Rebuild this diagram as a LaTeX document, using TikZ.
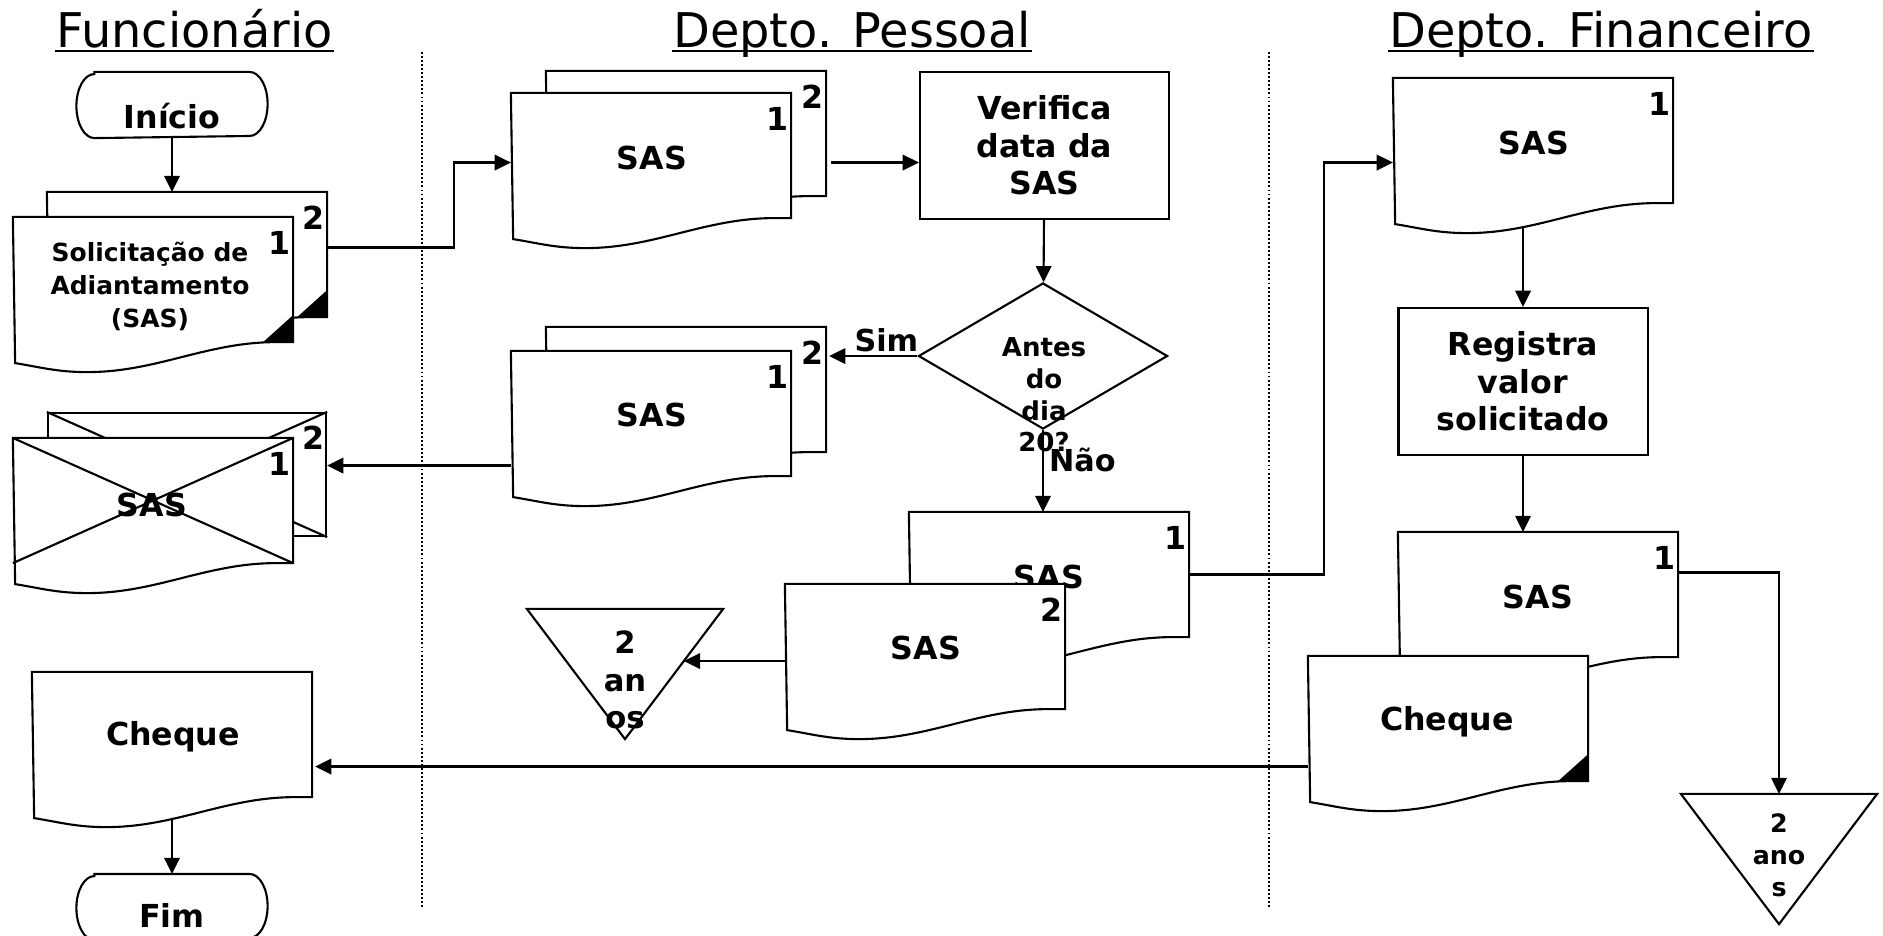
\documentclass[tikz,border=0pt]{standalone}
\usepackage{fontspec}
\setmainfont{DejaVu Sans}
\usetikzlibrary{arrows.meta,calc,shapes.geometric}

% contorno de documento (base ondulada) a partir de um no
\newcommand{\documento}[1]{%
	\draw[fill=white] (#1.north west) -- (#1.north east) -- (#1.south east) -- ++(-17,0)
		.. controls +(-70,0) and +(70,0) .. ++(-189,30)
		.. controls +(-30,0) and +(25,4) .. ++(-72,-9) -- cycle;}
\newcommand{\cantoneira}[1]{\fill (#1.south east) -- ++(-30,0) -- ++(30,-27) -- cycle;}
\newcommand{\terminal}[1]{%
	\draw (#1.north west) -- (#1.north east) arc[start angle=90,end angle=-90,x radius=0.18cm,y radius=0.32cm]
		-- (#1.south west) arc[start angle=270,end angle=90,x radius=0.18cm,y radius=0.32cm] -- cycle;}

\begin{document}
\begin{tikzpicture}[x=0.01cm,y=-0.01cm,line width=0.6pt,>={Triangle[length=4.6pt,width=4.4pt]}]
	\tikzstyle{texto}=[font=\bfseries\fontsize{9pt}{10.7pt}\selectfont,align=center,inner sep=0pt]
	\tikzstyle{titulo}=[font=\fontsize{13.6pt}{16pt}\selectfont,inner sep=0pt,anchor=base]
	\tikzstyle{doc}=[minimum width=2.78cm,minimum height=1.23cm,inner sep=0pt]
	\tikzstyle{caixa}=[texto,draw,rectangle,minimum width=2.49cm,minimum height=1.47cm]
	\tikzstyle{decisao}=[draw,diamond,minimum width=2.49cm,minimum height=1.46cm,inner sep=0pt]
	\tikzstyle{term}=[minimum width=1.53cm,minimum height=0.64cm,inner sep=0pt]
	\tikzstyle{arquivo}=[minimum width=1.94cm,minimum height=1.28cm,inner sep=0pt]

	\useasboundingbox (0,0) rectangle (1883,935);

	% raias
	\draw[line width=0.5pt,dash pattern=on 0.55pt off 0.6pt] (422,52) -- (422,908);
	\draw[line width=0.5pt,dash pattern=on 0.55pt off 0.6pt] (1269,52) -- (1269,908);

	\node[titulo] (TFU) at (194.5,47) {Funcionário};
	\node[titulo] (TDP) at (852,47) {Depto. Pessoal};
	\node[titulo] (TDF) at (1601,47) {Depto. Financeiro};
	\foreach \t in {TFU,TDP,TDF}
		\draw[line width=0.7pt] ($(\t.base west)+(0,4)$) -- ($(\t.base east)+(0,4)$);

	% Funcionario
	\node[term] (INI) at (172,105) {};
	\terminal{INI}
	\node[texto] (INIt) at (172,116) {Início};

	\node[doc] (SOLb) at (187,254.5) {};
	\documento{SOLb} \cantoneira{SOLb}
	\node[doc] (SOLa) at (153,279.5) {};
	\documento{SOLa} \cantoneira{SOLa}
	\node[texto,font=\bfseries\fontsize{7.1pt}{9.4pt}\selectfont] (SOLt) at (150,286.5)
		{Solicitação de\\Adiantamento\\(SAS)};

	\node[doc,draw] (ENVb) at (187,474.5) {};
	\draw (ENVb.north west) -- (ENVb.south east) (ENVb.north east) -- (ENVb.south west);
	\node[doc] (ENVa) at (153,500.5) {};
	\documento{ENVa}
	\draw (ENVa.north west) -- (ENVa.south east) (ENVa.north east) -- (ENVa.south west);
	\node[texto] (ENVt) at (152,505) {SAS};

	\node[doc] (CHQa) at (172,734.5) {};
	\documento{CHQa}
	\node[texto] (CHQat) at (173,737) {Cheque};

	\node[term] (FIM) at (172,907) {};
	\terminal{FIM}
	\node[texto] (FIMt) at (172,915) {Fim};

	% Depto. Pessoal
	\node[doc] (SASb) at (686,133.5) {};
	\documento{SASb}
	\node[doc] (SASa) at (651,155.5) {};
	\documento{SASa}
	\node[texto] (SASat) at (652,158) {SAS};

	\node[caixa] (VER) at (1044.5,145.5) {Verifica\\data da\\SAS};
	\node[decisao] (DEC) at (1043,356) {};
	\node[texto,font=\bfseries\fontsize{7.4pt}{9pt}\selectfont] (DECt) at (1044,395) {Antes\\do\\dia\\20?};

	\node[doc] (SIMb) at (686,389.5) {};
	\documento{SIMb}
	\node[doc] (SIMa) at (651,413.5) {};
	\documento{SIMa}
	\node[texto] (SIMat) at (652,415) {SAS};

	\node[doc] (NAOa) at (1049,574.5) {};
	\documento{NAOa}
	\node[texto] (NAOat) at (1049,577) {SAS};
	\node[doc] (NAOb) at (925,646.5) {};
	\documento{NAOb}
	\node[texto] (NAObt) at (926,648) {SAS};

	\node[arquivo] (TRIa) at (625,674) {};
	\draw (TRIa.north west) -- (TRIa.north east) -- (TRIa.south) -- cycle;
	\node[texto,font=\bfseries\fontsize{8.7pt}{10.7pt}\selectfont] (TRIat) at (625,680) {2\\an\\os};

	% Depto. Financeiro
	\node[doc] (DFa) at (1533,140.5) {};
	\documento{DFa}
	\node[texto] (DFat) at (1534,143) {SAS};

	\node[caixa] (REG) at (1523,381.5) {Registra\\valor\\solicitado};

	\node[doc] (DFb) at (1538,594.5) {};
	\documento{DFb}
	\node[texto] (DFbt) at (1538,597) {SAS};
	\node[doc] (CHQb) at (1448,718.5) {};
	\documento{CHQb} \cantoneira{CHQb}
	\node[texto] (CHQbt) at (1447,722) {Cheque};

	\node[arquivo] (TRIb) at (1779,859) {};
	\draw (TRIb.north west) -- (TRIb.north east) -- (TRIb.south) -- cycle;
	\node[texto,font=\bfseries\fontsize{7.2pt}{9.1pt}\selectfont] (TRIbt) at (1779,855) {2\\ano\\s};

	% vias
	\foreach \d/\n in {SOLb/2,SOLa/1,ENVb/2,ENVa/1,SASb/2,SASa/1,SIMb/2,SIMa/1,NAOa/1,NAOb/2,DFa/1,DFb/1}
		\node[texto] (\d-n) at ($(\d.north east)+(-14,26)$) {\n};

	% fluxo
	\draw[->] (INI.south) -- (INI.south |- SOLb.north);
	\draw[->] ($(SOLb.east)+(0,-7)$) -- ++(127,0) |- ($(SASa.west)+(0,7)$);
	\draw[->] ($(SASb.east)+(5,29)$) -- ($(VER.west)+(0,17)$);
	\path (VER) edge[->] (DEC);
	\path (DEC.west) edge[->,shorten >=0.03cm] node[texto,above=0.03cm,pos=0.34,font=\bfseries\fontsize{8.6pt}{10pt}\selectfont]{Sim} (DEC.west -| SIMb.east);
	\path (DEC.south) edge[->] node[texto,right=0.05cm,pos=0.37,font=\bfseries\fontsize{8.6pt}{10pt}\selectfont]{Não} (DEC.south |- NAOa.north);

	\coordinate (G) at ($(SIMa.west)+(0,52)$);
	\draw[->] (G) -- (G -| ENVb.east);

	\coordinate (TRIain) at ($(TRIa.north east)!0.4!(TRIa.south)$);
	\draw[->] (NAOb.west |- TRIain) -- (TRIain);

	\draw[->] (NAOa.east) -- ++(135,0) |- ($(DFa.west)+(0,22)$);
	\draw[->] ($(REG.north |- DFa.south)+(0,24)$) -- (REG.north);
	\draw[->] (REG.south) -- (REG.south |- DFb.north);
	\draw[->] ($(DFb.east)+(0,-22)$) -| (TRIb.north);

	\coordinate (M) at ($(CHQb.west)+(0,48)$);
	\draw[->,shorten >=0.03cm] (M) -- (M -| CHQa.east);
	\draw[->] ($(CHQa.south)+(0,22)$) -- (CHQa.south |- FIM.north);
\end{tikzpicture}
\end{document}
